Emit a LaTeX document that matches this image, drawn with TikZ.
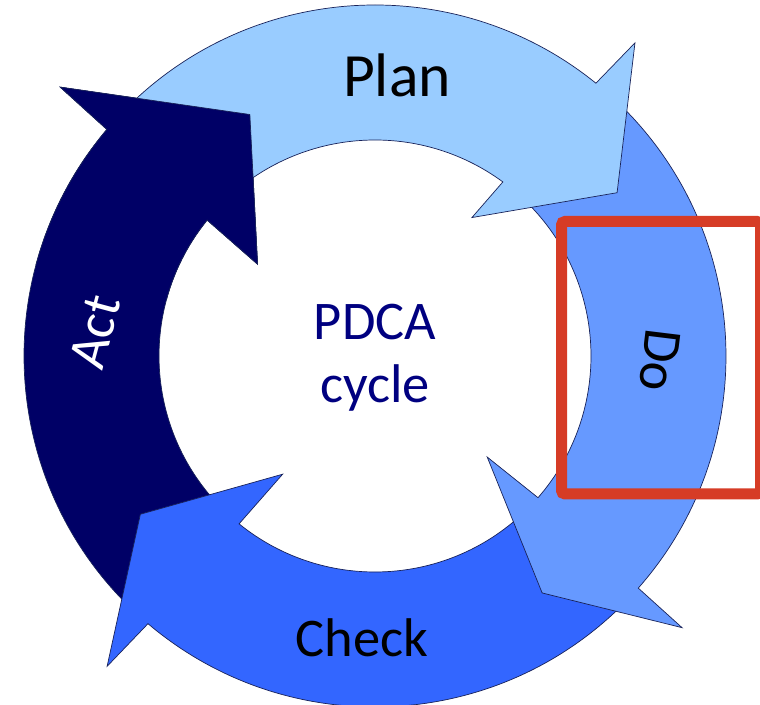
\documentclass[tikz,border=0pt]{standalone}
\usepackage{fontspec}
\setmainfont{Carlito}
\definecolor{planblue}{RGB}{153,204,255}
\definecolor{doblue}{RGB}{102,153,255}
\definecolor{checkblue}{RGB}{51,102,255}
\definecolor{actblue}{RGB}{0,0,102}
\definecolor{pdcanavy}{RGB}{0,0,128}
\definecolor{edgenavy}{RGB}{25,35,90}
\definecolor{markred}{RGB}{214,60,38}
\tikzset{ringedge/.style={draw=edgenavy,line width=0.4pt,line join=miter}}
% #1 colour, #2 tail angle, #3/#4 outer/inner end angle, #5 outer barb, #6 tip, #7 inner barb
\newcommand{\ringarrow}[7]{%
  \filldraw[ringedge,fill=#1](#2:351)arc[start angle=#2,end angle=#3,radius=351]
    --(#5)--(#6)--(#7)--(#4:216)arc[start angle=#4,end angle=#2,radius=216]--cycle;}
\begin{document}
\begin{tikzpicture}[x=0.02cm,y=0.02cm,
  lbl/.style={inner sep=0pt,font=\fontsize{31}{36}\selectfont}]
\useasboundingbox(-375,-349)rectangle(385,356);
\foreach \col/\fa/\oa/\ia/\ob/\tp/\ib in {
  actblue/226/139.8/141/139.5:414/117.4:272/142:149,
  checkblue/-45/-130.3/-129/-130.8:410/-146:283/-128:150,
  doblue/47/-41.4/-41/-41.5:410/-54.8:290/-42:151,
  planblue/134/51/53.7/50.3:407/34:292/55:169}
  \ringarrow{\col}{\fa}{\oa}{\ia}{\ob}{\tp}{\ib};
% act head lies over the plan tail
\begin{scope}
\clip(0,0)--(100:500)arc[start angle=100,end angle=165,radius=500]--cycle;
\ringarrow{actblue}{226}{139.8}{141}{139.5:414}{117.4:272}{142:149}
\end{scope}
\node[lbl,font=\fontsize{35}{40}\selectfont] (plan) at (22,281) {Plan};
\node[lbl,rotate=-97] (do) at (285,-4) {Do};
\node[lbl] (check) at (-13,-282) {Check};
\node[lbl,text=white,rotate=75] (act) at (-280,24) {Act};
\node[lbl,text=pdcanavy,align=center] (pdca) at (0,-2) {PDCA\\cycle};
\draw[markred,line width=0.22cm,rounded corners=2pt](186.5,134.5)rectangle(385.5,-138);
\end{tikzpicture}
\end{document}
